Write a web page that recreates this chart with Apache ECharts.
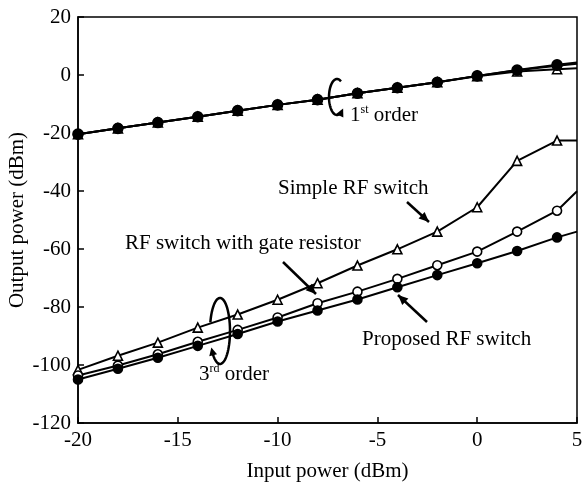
<!DOCTYPE html>
<html>
<head>
<meta charset="utf-8">
<script src="https://cdn.jsdelivr.net/npm/echarts@6/dist/echarts.min.js"></script>
<style>html,body{margin:0;padding:0;background:#fff}#c{width:584px;height:484px}</style>
</head>
<body>
<div id="c"></div>
<script>
// Input power (dBm); last point (5) is the line end without marker
var inputPower = [-20, -18, -16, -14, -12, -10, -8, -6, -4, -2, 0, 2, 4, 5];
// 1st order output (dBm)
var firstProposed = [-20.4, -18.4, -16.4, -14.4, -12.3, -10.3, -8.5, -6.3, -4.4, -2.5, -0.3, 1.7, 3.5, 4.3];
var firstGate     = [-20.4, -18.4, -16.4, -14.4, -12.3, -10.3, -8.5, -6.3, -4.4, -2.5, -0.3, 1.6, 3.2, 3.9];
var firstSimple   = [-20.4, -18.4, -16.4, -14.4, -12.3, -10.3, -8.5, -6.3, -4.4, -2.5, -0.4, 1.2, 2.0, 2.3];
// 3rd order output (dBm)
var thirdSimple   = [-101.7, -96.8, -92.3, -87.1, -82.6, -77.5, -71.8, -65.7, -60.1, -54.0, -45.6, -29.6, -22.6, -22.6];
var thirdGate     = [-103.6, -100.2, -96.3, -92.0, -87.9, -83.6, -78.7, -74.7, -70.3, -65.6, -60.9, -54.0, -46.8, -40.1];
var thirdProposed = [-105.0, -101.3, -97.5, -93.4, -89.3, -85.0, -81.2, -77.4, -73.2, -69.0, -64.9, -60.7, -56.0, -54.0];
var xTicks = {min: -20, max: 5, interval: 5};
var yTicks = {min: -120, max: 20, interval: 20};

var FONT = 'Liberation Serif';

function mk(vals, symbol, size, filled) {
  return {
    type: 'line',
    data: inputPower.map(function (x, i) {
      var d = {value: [x, vals[i]]};
      if (x === 5) d.symbol = 'none';
      return d;
    }),
    symbol: symbol,
    symbolSize: size,
    showAllSymbol: true,
    lineStyle: {color: '#000', width: 2},
    itemStyle: {color: filled ? '#000' : '#fff', borderColor: '#000', borderWidth: 1.6},
    emphasis: {disabled: true},
    animation: false,
    z: 3
  };
}

// decorative curved arrows (ellipse arcs) in pixel space
function ellArc(cx, cy, rx, ry, a0, a1) {
  var pts = [], n = 60;
  for (var i = 0; i <= n; i++) {
    var t = (a0 + (a1 - a0) * i / n) * Math.PI / 180;
    pts.push([cx + rx * Math.cos(t), cy + ry * Math.sin(t)]);
  }
  return pts;
}
function head(p, q, len, w) {
  var dx = p[0] - q[0], dy = p[1] - q[1], L = Math.sqrt(dx * dx + dy * dy);
  dx /= L; dy /= L;
  var bx = p[0] - dx * len, by = p[1] - dy * len;
  return [[p[0], p[1]], [bx - dy * w / 2, by + dx * w / 2], [bx + dy * w / 2, by - dx * w / 2]];
}
var graphics = [];
function arrowLine(x1, y1, x2, y2) {
  graphics.push({type: 'line', shape: {x1: x1, y1: y1, x2: x2, y2: y2}, style: {stroke: '#000', lineWidth: 2.5}, z: 10});
  graphics.push({type: 'polygon', shape: {points: head([x2, y2], [x1, y1], 10, 9)}, style: {fill: '#000'}, z: 10});
}
function curved(cx, cy, rx, ry, a0, a1) {
  var pts = ellArc(cx, cy, rx, ry, a0, a1);
  graphics.push({type: 'polyline', shape: {points: pts.slice(0, pts.length - 3)}, style: {stroke: '#000', lineWidth: 2.5, fill: null}, z: 10});
  graphics.push({type: 'polygon', shape: {points: head(pts[pts.length - 1], pts[pts.length - 4], 8, 8)}, style: {fill: '#000'}, z: 10});
}
function label(x, y, txt, rich) {
  var st = {x: x, y: y, text: txt, font: '21px "' + FONT + '"', fill: '#000', verticalAlign: 'middle', align: 'left'};
  if (rich) {
    st.rich = {
      a: {fontFamily: FONT, fontSize: 21, lineHeight: 22, verticalAlign: 'bottom'},
      s: {fontFamily: FONT, fontSize: 12, lineHeight: 22, verticalAlign: 'top', padding: [0, 0, 8, 0]}
    };
  }
  graphics.push({type: 'text', style: st, z: 11});
}

arrowLine(407, 202, 429, 222);
arrowLine(283, 262, 316, 294);
arrowLine(427, 322, 398, 295);
curved(337, 97, 8, 18, -60, -320);
curved(220, 331, 10, 33, -165, 150);
label(278, 188, 'Simple RF switch');
label(125, 243, 'RF switch with gate resistor');
label(362, 339, 'Proposed RF switch');
label(350, 115, '{a|1}{s|st}{a| order}', true);
label(199, 374, '{a|3}{s|rd}{a| order}', true);

var chart = echarts.init(document.getElementById('c'), null, {renderer: 'canvas'});
chart.setOption({
  animation: false,
  backgroundColor: '#fff',
  grid: {left: 78, top: 17, right: 7, bottom: 61, containLabel: false, outerBoundsMode: 'none', show: true, borderColor: '#000', borderWidth: 1.5, backgroundColor: 'transparent'},
  xAxis: {
    type: 'value', min: xTicks.min, max: xTicks.max, interval: xTicks.interval,
    name: 'Input power (dBm)', nameLocation: 'middle', nameGap: 38, nameMoveOverlap: false,
    nameTextStyle: {fontFamily: FONT, fontSize: 21, color: '#000'},
    axisLine: {show: true, onZero: false, lineStyle: {color: '#000', width: 1.5}},
    axisTick: {show: true, inside: true, length: 6, lineStyle: {color: '#000', width: 1.5}},
    axisLabel: {fontFamily: FONT, fontSize: 21, color: '#000', margin: 7},
    splitLine: {show: false}
  },
  yAxis: {
    type: 'value', min: yTicks.min, max: yTicks.max, interval: yTicks.interval,
    name: 'Output power (dBm)', nameLocation: 'middle', nameGap: 50, nameMoveOverlap: false,
    nameTextStyle: {fontFamily: FONT, fontSize: 21, color: '#000'},
    axisLine: {show: true, onZero: false, lineStyle: {color: '#000', width: 1.5}},
    axisTick: {show: true, inside: true, length: 6, lineStyle: {color: '#000', width: 1.5}},
    axisLabel: {fontFamily: FONT, fontSize: 21, color: '#000', margin: 7},
    splitLine: {show: false}
  },
  series: [
    mk(firstSimple, 'triangle', 9, false),
    mk(firstGate, 'circle', 9, false),
    mk(firstProposed, 'circle', 10, true),
    mk(thirdSimple, 'triangle', 9, false),
    mk(thirdGate, 'circle', 9, false),
    mk(thirdProposed, 'circle', 9, true)
  ],
  graphic: graphics
});
</script>
</body>
</html>
